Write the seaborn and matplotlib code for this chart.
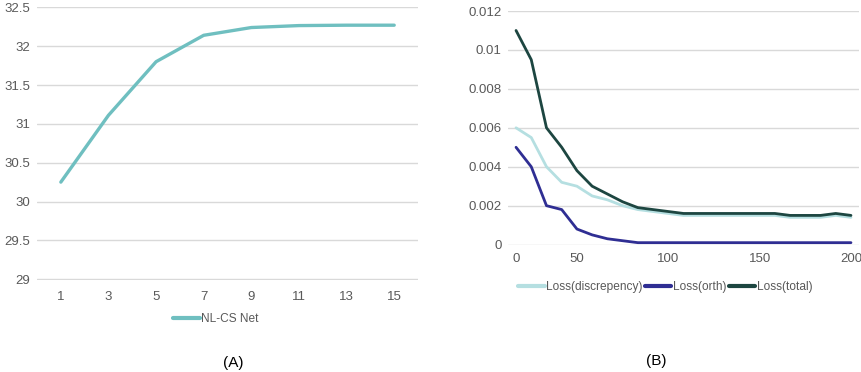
import numpy as np
import pandas as pd
import seaborn as sns
import matplotlib.pyplot as plt

# (A) PSNR vs. stages
stages = ["1", "3", "5", "7", "9", "11", "13", "15"]
nlcs_net = [30.25, 31.11, 31.80, 32.14, 32.24, 32.265, 32.27, 32.27]

# (B) training losses, 23 logged points, labelled 0 / 50 / 100 / 150 / 200
loss_discrepency = [0.0060, 0.0055, 0.0040, 0.0032, 0.0030, 0.0025, 0.0023, 0.0020,
                    0.0018, 0.0017, 0.0016, 0.0015, 0.0015, 0.0015, 0.0015, 0.0015,
                    0.0015, 0.0015, 0.0014, 0.0014, 0.0014, 0.0015, 0.0014]
loss_orth = [0.0050, 0.0040, 0.0020, 0.0018, 0.0008, 0.0005, 0.0003, 0.0002,
             0.0001, 0.0001, 0.0001, 0.0001, 0.0001, 0.0001, 0.0001, 0.0001,
             0.0001, 0.0001, 0.0001, 0.0001, 0.0001, 0.0001, 0.0001]
loss_total = [0.0110, 0.0095, 0.0060, 0.0050, 0.0038, 0.0030, 0.0026, 0.0022,
              0.0019, 0.0018, 0.0017, 0.0016, 0.0016, 0.0016, 0.0016, 0.0016,
              0.0016, 0.0016, 0.0015, 0.0015, 0.0015, 0.0016, 0.0015]
epoch_labels = {0: "0", 4: "50", 10: "100", 16: "150", 22: "200"}

sns.set_theme(style="white")
plt.rcParams["font.family"] = ["Liberation Sans", "DejaVu Sans"]

grid_col = "#d9d9d9"
text_col = "#595959"

fig = plt.figure(figsize=(8.61, 3.72), dpi=100)
ax1 = fig.add_axes([0.043, 0.2473, 0.4425, 0.733])
ax2 = fig.add_axes([0.5905, 0.3414, 0.4067, 0.629])

# Wykres (A)
df_a = pd.DataFrame({"pos": np.arange(len(stages)), "val": nlcs_net, "name": "NL-CS Net"})
sns.lineplot(data=df_a, x="pos", y="val", hue="name", palette=["#6fbfc0"],
             linewidth=2.4, ax=ax1)
ax1.set_xlim(-0.5, len(stages) - 0.5)
ax1.set_ylim(28.99, 32.5)
ax1.set_xticks(np.arange(len(stages)))
ax1.set_xticklabels(stages)
ax1.set_yticks(np.arange(29, 32.51, 0.5))
ax1.set_yticklabels([f"{v:g}" for v in np.arange(29, 32.51, 0.5)])
ax1.tick_params(axis="y", pad=5)
ax1.tick_params(axis="x", pad=8)

# Wykres (B)
n = len(loss_total)
df_b = pd.DataFrame({
    "step": np.tile(np.arange(n), 3),
    "loss": loss_discrepency + loss_orth + loss_total,
    "series": ["Loss(discrepency)"] * n + ["Loss(orth)"] * n + ["Loss(total)"] * n,
})
sns.lineplot(data=df_b, x="step", y="loss", hue="series",
             palette=["#b5dfe1", "#2f2e93", "#1d4641"], linewidth=2.0, ax=ax2)
ax2.set_xlim(-0.5, n - 0.5)
ax2.set_ylim(-0.00002, 0.012)
ax2.set_xticks(list(epoch_labels.keys()))
ax2.set_xticklabels(list(epoch_labels.values()))
ax2.set_yticks(np.arange(0, 0.0121, 0.002))
ax2.set_yticklabels([f"{v:g}" for v in np.arange(0, 0.0121, 0.002)])
ax2.tick_params(axis="y", pad=5)
ax2.tick_params(axis="x", pad=6)

for ax in (ax1, ax2):
    ax.set_xlabel("")
    ax.set_ylabel("")
    for s in ax.spines.values():
        s.set_visible(False)
    ax.grid(axis="y", color=grid_col, linewidth=1.0)
    ax.set_axisbelow(True)
    ax.tick_params(length=0, labelsize=9.5, labelcolor=text_col)

sns.move_legend(ax1, "center", bbox_to_anchor=(0.251, 0.1425),
                bbox_transform=fig.transFigure, frameon=False, title=None,
                fontsize=8.6, handlelength=2.2, handletextpad=0.15,
                labelcolor=text_col)
sns.move_legend(ax2, "center", bbox_to_anchor=(0.773, 0.2285),
                bbox_transform=fig.transFigure, frameon=False, title=None,
                ncol=3, fontsize=8.6, handlelength=2.2, handletextpad=0.15,
                columnspacing=0.2, labelcolor=text_col)
for leg in (ax1.get_legend(), ax2.get_legend()):
    for line in leg.get_lines():
        line.set_linewidth(3)

fig.text(0.2706, 0.0242, "(A)", ha="center", va="center", fontsize=11, color="black")
fig.text(0.7619, 0.0296, "(B)", ha="center", va="center", fontsize=11, color="black")

plt.savefig("out.png", dpi=100)
